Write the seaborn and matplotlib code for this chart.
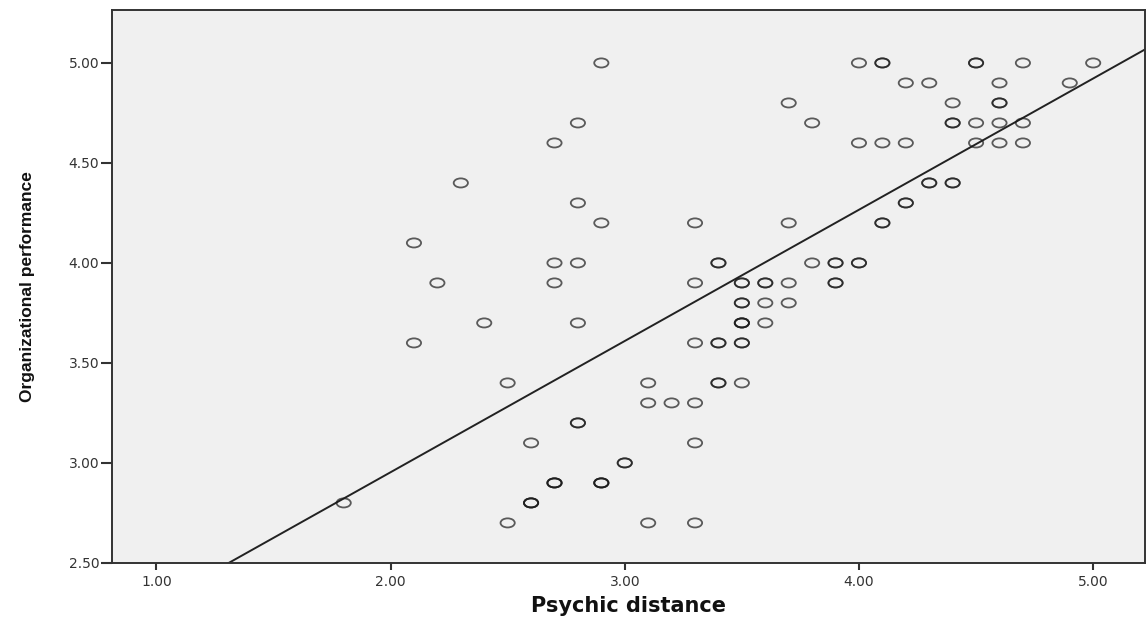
import matplotlib
matplotlib.use("Agg")
import matplotlib.pyplot as plt
import seaborn as sns
import pandas as pd
from matplotlib.path import Path
from matplotlib.transforms import Affine2D

# Data (bold circles = repeated cases)
psychic_distance = [
    2.9, 4.0, 4.1, 4.1, 4.5, 4.5, 4.7, 5.0,              # 5.0
    4.2, 4.3, 4.6, 4.9,                                  # 4.9
    3.7, 4.4, 4.6, 4.6,                                  # 4.8
    2.8, 3.8, 4.4, 4.4, 4.5, 4.6, 4.7,                   # 4.7
    2.7, 4.0, 4.1, 4.2, 4.5, 4.6, 4.7,                   # 4.6
    2.3, 4.3, 4.3, 4.4, 4.4,                             # 4.4
    2.8, 4.2, 4.2,                                       # 4.3
    2.9, 3.3, 3.7, 4.1, 4.1,                             # 4.2
    2.1,                                                 # 4.1
    2.7, 2.8, 3.4, 3.4, 3.8, 3.9, 3.9, 4.0, 4.0,         # 4.0
    2.2, 2.7, 3.3, 3.5, 3.5, 3.6, 3.6, 3.7, 3.9, 3.9,    # 3.9
    3.5, 3.5, 3.6, 3.7,                                  # 3.8
    2.4, 2.8, 3.5, 3.5, 3.5, 3.6,                        # 3.7
    2.1, 3.3, 3.4, 3.4, 3.5, 3.5,                        # 3.6
    2.5, 3.1, 3.4, 3.4, 3.5,                             # 3.4
    3.1, 3.2, 3.3,                                       # 3.3
    2.8, 2.8,                                            # 3.2
    2.6, 3.3,                                            # 3.1
    3.0, 3.0,                                            # 3.0
    2.7, 2.7, 2.7, 2.9, 2.9, 2.9,                        # 2.9
    1.8, 2.6, 2.6, 2.6,                                  # 2.8
    2.5, 3.1, 3.3,                                       # 2.7
]
org_performance = (
    [5.0] * 8 + [4.9] * 4 + [4.8] * 4 + [4.7] * 7 + [4.6] * 7
    + [4.4] * 5 + [4.3] * 3 + [4.2] * 5 + [4.1] * 1 + [4.0] * 9
    + [3.9] * 10 + [3.8] * 4 + [3.7] * 6 + [3.6] * 6 + [3.4] * 5
    + [3.3] * 3 + [3.2] * 2 + [3.1] * 2 + [3.0] * 2 + [2.9] * 6
    + [2.8] * 4 + [2.7] * 3
)
x_ticks = [1.0, 2.0, 3.0, 4.0, 5.0]
y_ticks = [2.5, 3.0, 3.5, 4.0, 4.5, 5.0]

dat = pd.DataFrame({"Psychic distance": psychic_distance,
                    "Organizational performance": org_performance})

sns.set_style("white")
plt.rcParams["font.family"] = ["DejaVu Sans"]

fig = plt.figure(figsize=(11.47, 6.22), dpi=100)
ax = fig.add_axes([0.0975, 0.095, 0.9005, 0.889])
ax.set_facecolor("#f0f0f0")
ax.set_xlim(0.81, 5.22)
ax.set_ylim(2.5, 5.265)

# flattened open circle, like the SPSS output
oval = Path.unit_circle().transformed(Affine2D().scale(1.0, 0.64))

sns.scatterplot(data=dat, x="Psychic distance", y="Organizational performance",
                marker=oval, s=105, facecolor="none", edgecolor=(0.1, 0.1, 0.1, 0.7),
                linewidth=1.3, ax=ax, zorder=3)
sns.regplot(data=dat, x="Psychic distance", y="Organizational performance",
            scatter=False, ci=None, truncate=False,
            line_kws={"color": "#222222", "lw": 1.4}, ax=ax)
ax.set_xlim(0.81, 5.22)
ax.set_ylim(2.5, 5.265)

ax.set_xticks(x_ticks)
ax.set_yticks(y_ticks)
ax.set_xticklabels([f"{v:.2f}" for v in x_ticks])
ax.set_yticklabels([f"{v:.2f}" for v in y_ticks])
ax.tick_params(axis="both", direction="out", length=5, width=1.5, colors="#333333",
               labelsize=10, labelcolor="#333333", bottom=True, left=True, pad=4)
ax.tick_params(axis="y", length=8, pad=1)

for sp in ax.spines.values():
    sp.set_visible(True)
    sp.set_color("#333333")
    sp.set_linewidth(1.4)

ax.set_xlabel("Psychic distance", fontsize=15, fontweight="bold", labelpad=5,
              color="#111111")
ax.set_ylabel("Organizational performance", fontsize=12.5, fontweight="bold",
              labelpad=24, color="#111111",
              family=["Liberation Sans", "DejaVu Sans"])

plt.savefig("out.png", dpi=100)
